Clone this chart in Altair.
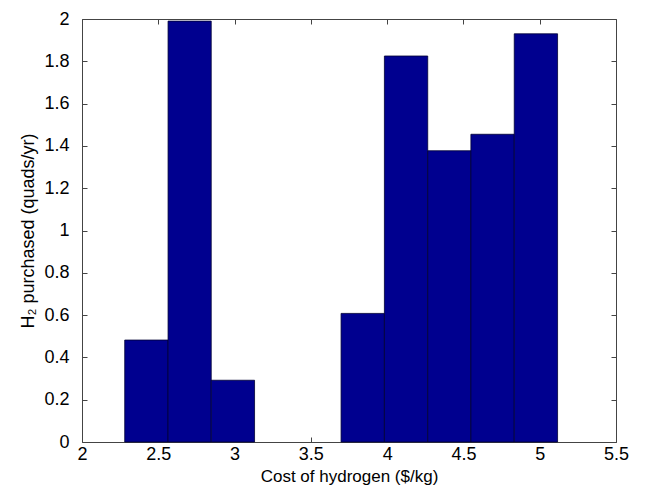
import altair as alt
import pandas as pd

# Histogram bins (edges) and heights
bin_start = [2.280, 2.564, 2.847, 3.131, 3.415, 3.698, 3.982, 4.266, 4.549, 4.833]
bin_end = [2.564, 2.847, 3.131, 3.415, 3.698, 3.982, 4.266, 4.549, 4.833, 5.117]
heights = [0.482, 1.99, 0.292, 0.0, 0.0, 0.608, 1.825, 1.377, 1.455, 1.93]

x_ticks = [2, 2.5, 3, 3.5, 4, 4.5, 5, 5.5]
y_ticks = [0, 0.2, 0.4, 0.6, 0.8, 1, 1.2, 1.4, 1.6, 1.8, 2]

df = pd.DataFrame({"start": bin_start, "end": bin_end, "h": heights})

FONT = "Liberation Sans"
FS = 18
AX_COLOR = "#444444"

x_scale = alt.Scale(domain=[2, 5.5], nice=False, zero=False)
y_scale = alt.Scale(domain=[0, 2], nice=False)

bars = alt.Chart(df).transform_filter("datum.h > 0").mark_rect(
    color="#00008F", stroke="#000033", strokeWidth=0.8
).encode(
    x=alt.X("start:Q", scale=x_scale,
            axis=alt.Axis(values=x_ticks, title="Cost of hydrogen ($/kg)",
                          orient="bottom", offset=-5, tickSize=5, domain=False,
                          grid=False, labelPadding=3, labelFlush=False,
                          tickColor=AX_COLOR, labelColor="#000000",
                          labelFont=FONT, labelFontSize=FS, titleFont=FONT,
                          titleFontSize=17, titleFontWeight="normal",
                          titlePadding=5, titleColor="#000000",
                          format="~g")),
    x2="end:Q",
    y=alt.Y("h:Q", scale=y_scale,
            axis=alt.Axis(values=y_ticks, title="H₂ purchased (quads/yr)",
                          orient="left", offset=-5, tickSize=5, domain=False,
                          grid=False, labelPadding=13, labelFlush=False,
                          tickColor=AX_COLOR, labelColor="#000000",
                          labelFont=FONT, labelFontSize=FS, titleFont=FONT,
                          titleFontSize=FS, titleFontWeight="normal",
                          titlePadding=6, titleColor="#000000",
                          format="~g")),
    y2=alt.datum(0),
)

# Mirror (top/right) ticks pointing inward, no labels
mirror = alt.Chart(df).mark_point(opacity=0).encode(
    x=alt.X("start:Q", scale=x_scale,
            axis=alt.Axis(values=x_ticks, orient="top", offset=-5, tickSize=5,
                          domain=False, grid=False, labels=False, title=None,
                          tickColor=AX_COLOR)),
    y=alt.Y("h:Q", scale=y_scale,
            axis=alt.Axis(values=y_ticks, orient="right", offset=-5, tickSize=5,
                          domain=False, grid=False, labels=False, title=None,
                          tickColor=AX_COLOR)),
)

chart = alt.layer(bars, mirror).resolve_axis(
    x="independent", y="independent"
).properties(
    width=534, height=423,
    autosize=alt.AutoSizeParams(type="none"),
    padding={"left": 74, "top": 11, "right": 20, "bottom": 46},
).configure_view(
    stroke=AX_COLOR, strokeWidth=1
)

chart.save("out.html", embed_options={"renderer": "svg", "actions": False})
